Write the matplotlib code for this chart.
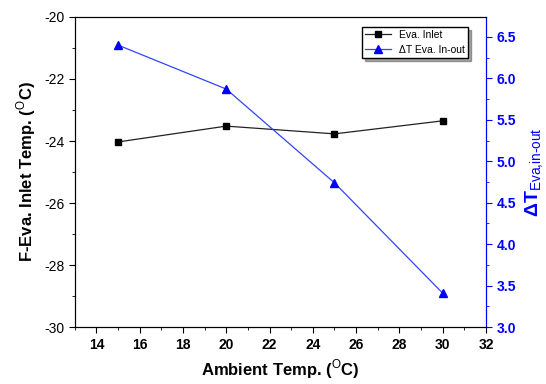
import numpy as np
import matplotlib.pyplot as plt
from matplotlib.ticker import MultipleLocator

plt.rcParams['font.family'] = ['Liberation Sans', 'DejaVu Sans']
plt.rcParams['axes.unicode_minus'] = False
plt.rcParams['mathtext.fontset'] = 'custom'
plt.rcParams['mathtext.rm'] = 'Liberation Sans'
plt.rcParams['mathtext.bf'] = 'Liberation Sans:bold'

ambient = [15, 20, 25, 30]
eva_inlet = [-24.03, -23.52, -23.77, -23.35]
delta_t = [6.40, 5.87, 4.74, 3.41]

fig = plt.figure(figsize=(5.46, 3.84), dpi=100)
ax = fig.add_axes([0.137, 0.148, 0.753, 0.808])
ax2 = ax.twinx()

l1, = ax.plot(ambient, eva_inlet, color='#222222', marker='s', ms=5, lw=0.9,
              mfc='k', mec='k', label='Eva. Inlet')
l2, = ax2.plot(ambient, delta_t, color='#3344ff', marker='^', ms=6, lw=0.9,
               mfc='b', mec='b', label='ΔT Eva. In-out')

ax.set_xlim(13, 32)
ax.set_ylim(-30, -20)
ax2.set_ylim(3.0, 6.74)

ax.xaxis.set_major_locator(MultipleLocator(2))
ax.xaxis.set_minor_locator(MultipleLocator(1))
ax.yaxis.set_major_locator(MultipleLocator(2))
ax.yaxis.set_minor_locator(MultipleLocator(1))
ax2.yaxis.set_major_locator(MultipleLocator(0.5))
ax2.yaxis.set_minor_locator(MultipleLocator(0.25))

ax.tick_params(which='both', direction='out', labelsize=10)
ax.tick_params(which='major', length=4)
ax.tick_params(which='minor', length=2)
ax2.tick_params(which='both', direction='out', colors='b', labelsize=10)
ax2.tick_params(which='major', length=4)
ax2.tick_params(which='minor', length=2)
ax2.yaxis.set_major_formatter(plt.FormatStrFormatter('%.1f'))
for lab in ax2.get_yticklabels() + ax.get_xticklabels():
    lab.set_fontweight('bold')
ax2.spines['right'].set_color('b')

ax.set_xlabel(r'Ambient Temp. ($^{\mathrm{O}}$C)', fontsize=12, fontweight='bold')
ax.set_ylabel(r'F-Eva. Inlet Temp. ($^{\mathrm{O}}$C)', fontsize=12, fontweight='bold')
ax2.set_ylabel(r'ΔT$_{\mathrm{Eva{,}in}\text{-}\mathrm{out}}$',
               fontsize=14, color='b', fontweight='bold', labelpad=6)

ax.legend(handles=[l1, l2], loc='upper right', fontsize=7.5, fancybox=False,
          shadow=True, framealpha=1, edgecolor='k', borderpad=0.3,
          handlelength=2.5, bbox_to_anchor=(0.97, 0.985))

fig.savefig('out.png', dpi=100)
